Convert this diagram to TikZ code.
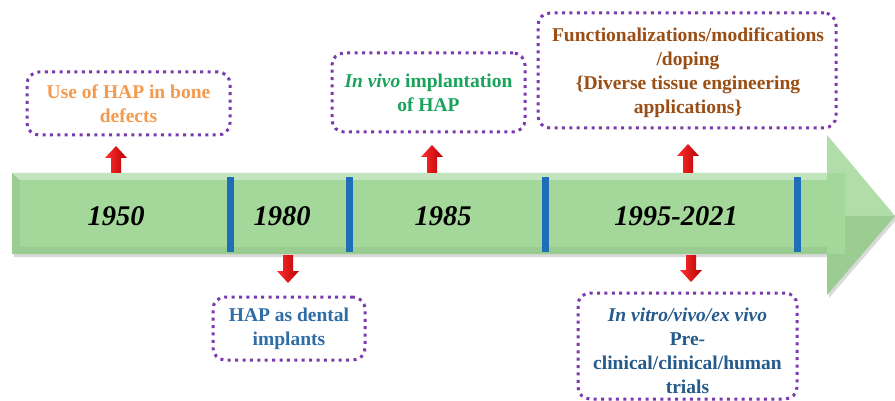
\documentclass[tikz,border=0pt]{standalone}
\usepackage{fontspec}
\setmainfont{Liberation Serif}
\definecolor{boxpurple}{HTML}{7A3AAE}
\definecolor{txorange}{HTML}{F39A4F}
\definecolor{txgreen}{HTML}{19A35B}
\definecolor{txbrown}{HTML}{9A4E14}
\definecolor{txblue}{HTML}{2F6DA8}
\definecolor{txdblue}{HTML}{245A8C}
\definecolor{divblue}{HTML}{1F6EB8}
\definecolor{arrfill}{HTML}{A4D89A}
\definecolor{redlight}{HTML}{FF3030}
\definecolor{reddark}{HTML}{B80000}
\newcommand\redarrow[4]{% name, x, tip y, base y
  \coordinate (#1) at (#2,#3);
  \pgfmathsetmacro\hd{(#4>#3)?12:-12}
  \shade[left color=redlight,right color=reddark]
    ({#2-5},{#4}) -- ({#2-5},{#3+\hd}) -- ({#2-11},{#3+\hd}) -- (#1)
    -- ({#2+11},{#3+\hd}) -- ({#2+5},{#3+\hd}) -- ({#2+5},{#4}) -- cycle;}
\begin{document}
\begin{tikzpicture}[x=1pt,y=-1pt,
  evbox/.style={draw=boxpurple,line width=3pt,dash pattern=on 3pt off 4.4pt,
    rounded corners=12pt,align=center,inner sep=0pt,
    font=\fontsize{19.5}{24}\selectfont\bfseries},
  evtext/.style={align=center,inner sep=0pt,font=\fontsize{19.5}{24}\selectfont\bfseries},
  year/.style={font=\fontsize{28.5}{30}\selectfont\bfseries\itshape,text=black},
  divider/.style={fill=divblue,minimum width=7pt,minimum height=75pt,inner sep=0pt}]
\useasboundingbox (0,0) rectangle (895,401);
\fill[white] (0,0) rectangle (895,401);
% timeline arrow
\fill[preaction={fill=black,opacity=0.15,transform canvas={xshift=2pt,yshift=-3pt}},arrfill]
  (12,173) -- (827,173) -- (827,135) -- (895,216) -- (827,295) -- (827,254) -- (12,254) -- cycle;
\fill[white,opacity=0.35] (12,173) -- (827,173) -- (827,180) -- (20,180) -- cycle;
\fill[black,opacity=0.06] (12,254) -- (827,254) -- (827,247) -- (20,247) -- cycle;
\fill[black,opacity=0.05] (12,173) -- (20,180) -- (20,247) -- (12,254) -- cycle;
\fill[white,opacity=0.14] (827,135) -- (895,216) -- (845,216) -- (845,173) -- (827,173) -- cycle;
\fill[black,opacity=0.05] (827,295) -- (895,216) -- (845,216) -- (845,254) -- (827,254) -- cycle;
% dividers
\node[divider] (d1) at (230,214.5) {};
\node[divider] (d2) at (349,214.5) {};
\node[divider] (d3) at (545,214.5) {};
\node[divider] (d4) at (797,214.5) {};
% years
\node[year] (y1) at (116,216) {1950};
\node[year] (y2) at (282,216) {1980};
\node[year] (y3) at (443,216) {1985};
\node[year] (y4) at (676,216) {1995-2021};
% event boxes
\node[evbox,text=txorange,minimum width=203pt,minimum height=63pt] (b1) at (128.5,103.5)
  {Use of HAP in bone\\defects};
\node[evbox,text=txgreen,minimum width=193pt,minimum height=79pt] (b2) at (428.5,92.5)
  {\textit{In vivo} implantation\\of HAP};
\node[evbox,minimum width=298pt,minimum height=115pt] (b3) at (687,70.5) {};
\node[evtext,text=txbrown] (b3t) at (688,73)
  {Functionalizations/modifications\\/doping\\\{Diverse tissue engineering\\applications\}};
\node[evbox,text=txblue,minimum width=152pt,minimum height=63pt] (b4) at (289,328.5)
  {HAP as dental\\implants};
\node[evbox,minimum width=219pt,minimum height=106pt] (b5) at (687.5,346) {};
\node[evtext,text=txdblue] (b5t) at (687.5,351)
  {\textit{In vitro/vivo/ex vivo}\\Pre-\\clinical/clinical/human\\trials};
% red arrows
\redarrow{u1}{116}{146}{173}
\redarrow{w1}{288}{283}{255}
\redarrow{u2}{432}{145}{173}
\redarrow{u3}{688}{144}{173}
\redarrow{w2}{691}{282}{255}
\end{tikzpicture}
\end{document}
